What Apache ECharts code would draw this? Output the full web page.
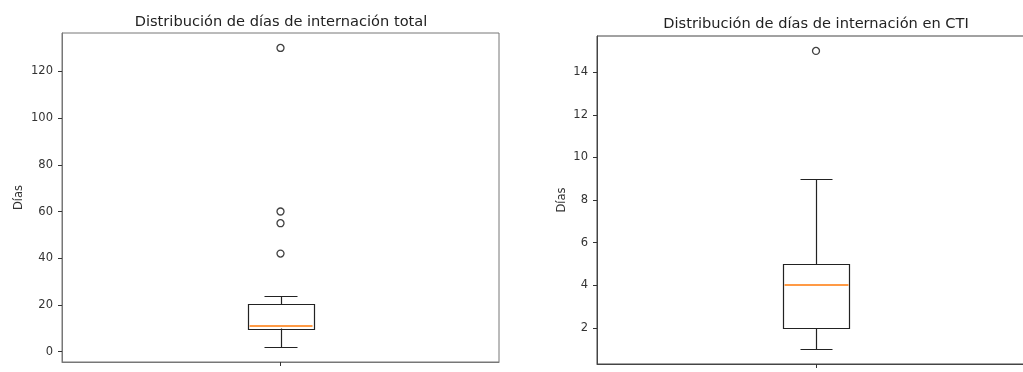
<!DOCTYPE html>
<html>
<head>
<meta charset="utf-8">
<script src="https://cdn.jsdelivr.net/npm/echarts@6/dist/echarts.min.js"></script>
<style>html,body{margin:0;padding:0;background:#fff;}#c{width:1023px;height:372px;}</style>
</head>
<body>
<div id="c"></div>
<script>
// ---- data ----
const titles = ['Distribución de días de internación total', 'Distribución de días de internación en CTI'];
const yName = 'Días';
const xCategory = ['1'];
const totalStats = [2, 10, 11, 20.5, 24];      // min, Q1, median, Q3, max
const totalOutliers = [42, 55, 60, 130];
const ctiStats = [1, 2, 4, 5, 9];
const ctiOutliers = [15];
const yTicksTotal = [0, 20, 40, 60, 80, 100, 120];
const yTicksCti = [2, 4, 6, 8, 10, 12, 14];

// ---- helpers ----
function range(stats, outs) {
  const all = stats.concat(outs);
  const lo = Math.min.apply(null, all), hi = Math.max.apply(null, all);
  const m = (hi - lo) * 0.05;
  return [lo - m, hi + m];
}
const rTotal = range(totalStats, totalOutliers);
const rCti = range(ctiStats, ctiOutliers);

const BOX_HALF = 0.075, CAP_HALF = 0.0375;
function renderBox(params, api) {
  const x = api.value(0);
  const lo = api.value(1), q1 = api.value(2), med = api.value(3), q3 = api.value(4), hi = api.value(5);
  const p = (xv, yv) => api.coord([xv, yv]);
  const r = v => Math.round(v) + 0.5;
  const a = p(x - BOX_HALF, q3), b = p(x + BOX_HALF, q1);
  const line = (x1, y1, x2, y2) => ({
    type: 'line',
    shape: {x1: r(x1), y1: r(y1), x2: r(x2), y2: r(y2)},
    style: {stroke: '#222', lineWidth: 1.2}
  });
  const c = p(x, 0)[0];
  const cl = p(x - CAP_HALF, 0)[0], cr = p(x + CAP_HALF, 0)[0];
  const yLo = p(x, lo)[1], yHi = p(x, hi)[1], yMed = Math.round(p(x, med)[1]);
  return {
    type: 'group',
    children: [
      line(c, a[1], c, yHi),
      line(c, b[1], c, yLo),
      line(cl, yHi, cr, yHi),
      line(cl, yLo, cr, yLo),
      {type: 'rect', shape: {x: r(a[0]), y: r(a[1]), width: Math.round(b[0] - a[0]), height: Math.round(b[1] - a[1])},
       style: {fill: 'none', stroke: '#222', lineWidth: 1.2}},
      {type: 'line', z2: 10,
       shape: {x1: r(a[0]) + 1, y1: yMed, x2: r(b[0]) - 1, y2: yMed},
       style: {stroke: '#ff9a45', lineWidth: 2, opacity: 1}}
    ]
  };
}

const font = 'DejaVu Sans';
function xAxisFor(gi, color) {
  return {
    type: 'value', gridIndex: gi, min: 0.5, max: 1.5,
    axisLine: {show: true, onZero: false, lineStyle: {color: color, width: 1}},
    axisTick: {show: true, length: 4, customValues: [1], lineStyle: {color: '#333'}},
    axisLabel: {customValues: [1], formatter: () => xCategory[0], fontFamily: font, fontSize: 11.5, color: '#333', margin: 12},
    splitLine: {show: false}
  };
}
function yAxisFor(gi, rng, ticks, color, gap) {
  return {
    type: 'value', gridIndex: gi, min: rng[0], max: rng[1],
    name: yName, nameLocation: 'middle', nameGap: gap,
    nameTextStyle: {fontFamily: font, fontSize: 11.5, color: '#333'},
    axisLine: {show: true, onZero: false, lineStyle: {color: color, width: 1}},
    axisTick: {show: true, length: 4, customValues: ticks, lineStyle: {color: '#333'}},
    axisLabel: {customValues: ticks, fontFamily: font, fontSize: 11.5, color: '#333', margin: 9},
    splitLine: {show: false}
  };
}

const chart = echarts.init(document.getElementById('c'), null, {renderer: 'canvas'});
chart.setOption({
  animation: false,
  backgroundColor: '#fff',
  title: [
    {text: titles[0], left: 276, top: 10, textAlign: 'center',
     textStyle: {fontFamily: font, fontSize: 14.6, fontWeight: 'normal', color: '#222'}},
    {text: titles[1], left: 811, top: 12, textAlign: 'center',
     textStyle: {fontFamily: font, fontSize: 14.6, fontWeight: 'normal', color: '#222'}}
  ],
  grid: [
    {left: 62, top: 33, width: 437, height: 329, show: true, borderColor: '#777', borderWidth: 1,
     backgroundColor: 'transparent', outerBoundsMode: 'none', containLabel: false},
    {left: 597, top: 36, width: 438, height: 328, show: true, borderColor: '#444', borderWidth: 1,
     backgroundColor: 'transparent', outerBoundsMode: 'none', containLabel: false}
  ],
  xAxis: [xAxisFor(0, '#777'), xAxisFor(1, '#444')],
  yAxis: [yAxisFor(0, rTotal, yTicksTotal, '#777', 37), yAxisFor(1, rCti, yTicksCti, '#444', 29)],
  series: [
    {type: 'custom', xAxisIndex: 0, yAxisIndex: 0, renderItem: renderBox,
     data: [[1].concat(totalStats)], encode: {x: 0, y: [1, 2, 3, 4, 5]}},
    {type: 'scatter', xAxisIndex: 0, yAxisIndex: 0, symbol: 'circle', symbolSize: 7,
     itemStyle: {color: '#fff', borderColor: '#111', borderWidth: 1.3},
     data: totalOutliers.map(v => [1, v])},
    {type: 'custom', xAxisIndex: 1, yAxisIndex: 1, renderItem: renderBox,
     data: [[1].concat(ctiStats)], encode: {x: 0, y: [1, 2, 3, 4, 5]}},
    {type: 'scatter', xAxisIndex: 1, yAxisIndex: 1, symbol: 'circle', symbolSize: 7,
     itemStyle: {color: '#fff', borderColor: '#111', borderWidth: 1.3},
     data: ctiOutliers.map(v => [1, v])}
  ]
});
</script>
</body>
</html>
